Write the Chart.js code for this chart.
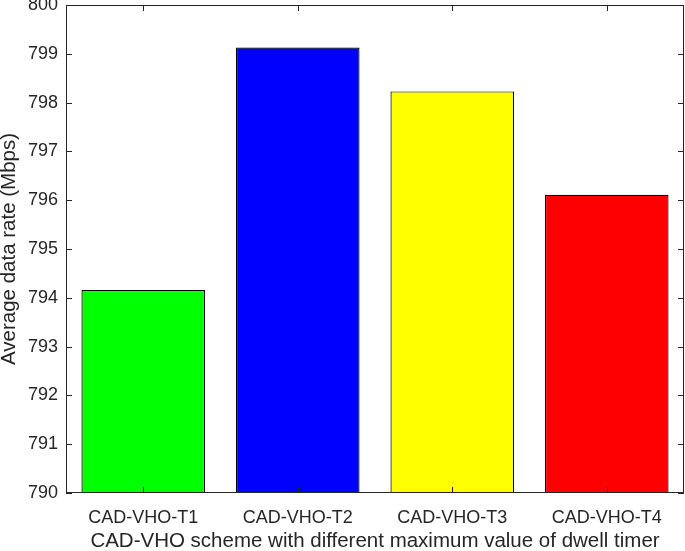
<!DOCTYPE html>
<html>
<head>
<meta charset="utf-8">
<script src="https://cdn.jsdelivr.net/npm/chart.js@4"></script>
<style>
  html, body { margin: 0; padding: 0; background: #fff; }
  #wrap { width: 685px; height: 551px; }
</style>
</head>
<body>
<div id="wrap"><canvas id="rateChart" width="685" height="551"></canvas></div>
<script>
var categories = ['CAD-VHO-T1', 'CAD-VHO-T2', 'CAD-VHO-T3', 'CAD-VHO-T4'];
var dataRates = [794.16, 799.13, 798.23, 796.11];
var barColors = ['#00ff00', '#0000ff', '#ffff00', '#ff0000'];
var yTicks = [790, 791, 792, 793, 794, 795, 796, 797, 798, 799, 800];

// box round the plot with inward ticks, like the MATLAB original
var boxPlugin = {
    id: 'boxPlugin',
    afterDraw: function (chart) {
        var c = chart.ctx, a = chart.chartArea;
        var x = chart.scales.x, y = chart.scales.y;
        c.save();
        c.strokeStyle = '#262626';
        c.lineWidth = 1;
        c.strokeRect(a.left + 0.5, a.top + 0.5, a.right - a.left - 1, a.bottom - a.top - 1);
        c.beginPath();
        yTicks.forEach(function (v) {
            var py = Math.round(y.getPixelForValue(v)) + 0.5;
            c.moveTo(a.left, py); c.lineTo(a.left + 6, py);
            c.moveTo(a.right, py); c.lineTo(a.right - 6, py);
        });
        categories.forEach(function (cat, i) {
            var px = Math.round(x.getPixelForValue(i)) + 0.5;
            c.moveTo(px, a.top); c.lineTo(px, a.top + 6);
            c.moveTo(px, a.bottom); c.lineTo(px, a.bottom - 6);
        });
        c.stroke();
        c.restore();
    }
};

document.addEventListener('DOMContentLoaded', function () {
    var ctx = document.getElementById('rateChart').getContext('2d');
    new Chart(ctx, {
        type: 'bar',
        data: {
            labels: categories,
            datasets: [{
                data: dataRates,
                backgroundColor: barColors,
                borderColor: '#000',
                borderWidth: 1.2,
                borderSkipped: false,
                categoryPercentage: 1.0,
                barPercentage: 0.8
            }]
        },
        options: {
            responsive: false,
            animation: false,
            layout: { padding: { top: 5, right: 1, left: 0, bottom: 0 } },
            plugins: { legend: { display: false }, tooltip: { enabled: false } },
            scales: {
                x: {
                    afterFit: function (s) { s.height = 58; s.paddingLeft = 0; s.paddingRight = 0; },
                    grid: { display: false, drawTicks: false },
                    border: { display: false },
                    ticks: {
                        color: '#262626',
                        font: { family: 'Liberation Sans', size: 18 },
                        padding: 14
                    },
                    title: {
                        display: true,
                        text: 'CAD-VHO scheme with different maximum value of dwell timer',
                        color: '#262626',
                        font: { family: 'Liberation Sans', size: 20.5 },
                        padding: { top: 0, bottom: -3 }
                    }
                },
                y: {
                    min: 790,
                    max: 800,
                    afterBuildTicks: function (s) {
                        s.ticks = yTicks.map(function (v) { return { value: v }; });
                    },
                    afterFit: function (s) { s.width = 66; s.paddingTop = 0; s.paddingBottom = 0; },
                    grid: { display: false, drawTicks: false },
                    border: { display: false },
                    ticks: {
                        color: '#262626',
                        font: { family: 'Liberation Sans', size: 18 },
                        padding: 8
                    },
                    title: {
                        display: true,
                        text: 'Average data rate (Mbps)',
                        color: '#262626',
                        font: { family: 'Liberation Sans', size: 20.5 },
                        padding: { top: -3, bottom: 0 }
                    }
                }
            }
        },
        plugins: [boxPlugin]
    });
});
</script>
</body>
</html>
